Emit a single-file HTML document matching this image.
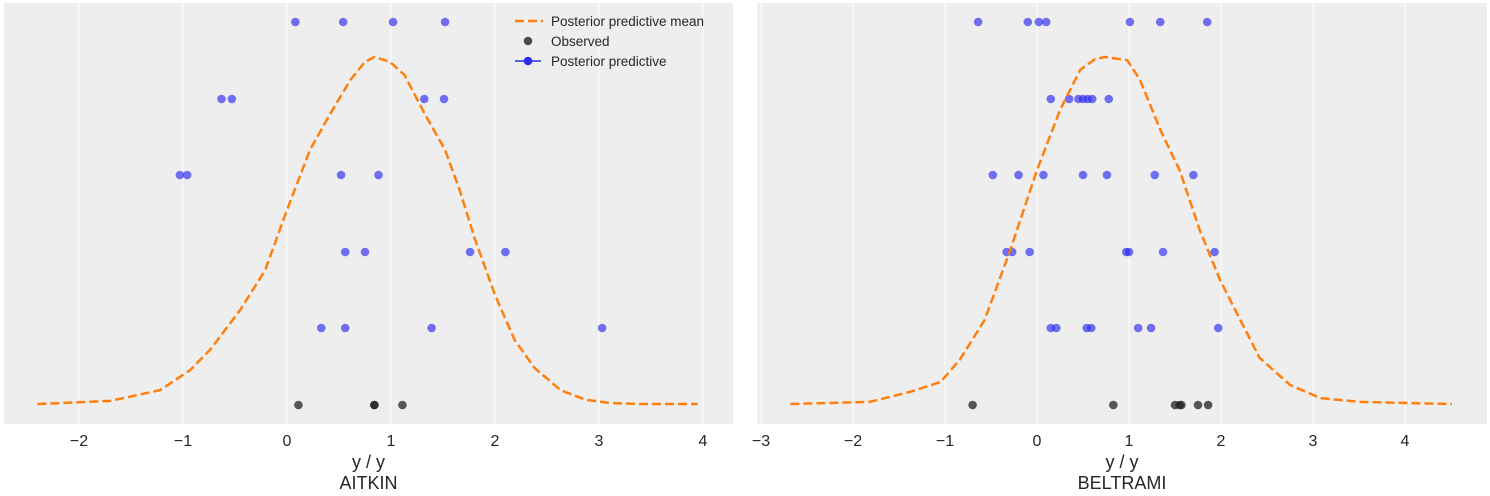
<!DOCTYPE html>
<html><head><meta charset="utf-8"><style>
body{margin:0;background:#fff;font-family:"Liberation Sans","DejaVu Sans",sans-serif}
svg{display:block}
</style></head><body>
<svg id="c" width="1490" height="496" xmlns="http://www.w3.org/2000/svg"></svg>
<script>
const ticks1=[-2,-1,0,1,2,3,4];
const ticks2=[-3,-2,-1,0,1,2,3,4];
const meanX1=[-2.4,-1.7,-1.22,-0.93,-0.74,-0.45,-0.21,0,0.22,0.41,0.61,0.75,0.84,0.99,1.13,1.33,1.52,1.66,1.81,2.0,2.19,2.38,2.63,2.87,3.11,3.39,3.95];
const meanY1=[0,.009,.04,.098,.156,.271,.386,.559,.732,.833,.934,.986,1,.986,.948,.833,.732,.617,.473,.314,.184,.104,.04,.012,.003,0,0];
const meanX2=[-2.68,-1.82,-1.38,-1.05,-0.84,-0.57,-0.29,0,0.25,0.47,0.63,0.74,0.98,1.12,1.34,1.55,1.77,1.99,2.21,2.42,2.75,3.08,3.51,4.51];
const meanY2=[0,.006,.035,.063,.127,.242,.444,.674,.847,.963,.994,1,.991,.934,.79,.674,.501,.357,.242,.133,.055,.017,.006,0];
const pp1=[[0.08,0.54,1.02,1.52],[-0.63,-0.53,1.32,1.51],[-1.03,-0.96,0.52,0.88],[0.56,0.75,1.76,2.10],[0.33,0.56,1.39,3.03]];
const obs1=[0.11,0.84,0.84,1.11];
const pp2=[[-0.64,-0.10,0.02,0.10,1.01,1.34,1.85],[0.15,0.35,0.45,0.5,0.55,0.6,0.78],[-0.48,-0.2,0.07,0.5,0.76,1.28,1.70],[-0.33,-0.27,-0.08,0.97,1.0,1.37,1.93],[0.15,0.21,0.54,0.59,1.10,1.24,1.97]];
const obs2=[-0.70,0.83,1.50,1.55,1.57,1.75,1.86];
const titles=["AITKIN","BELTRAMI"];

const NS="http://www.w3.org/2000/svg";
const svg=document.getElementById('c');
function mk(t,a,p){const e=document.createElementNS(NS,t);for(const k in a)e.setAttribute(k,a[k]);(p||svg).appendChild(e);return e;}
const rowY=[22,99,175,252,328],obsY=405,base=404,peak=57;
const panels=[
 {x0:4,x1:733,zero:287,unit:104,ticks:ticks1,mx:meanX1,my:meanY1,pp:pp1,obs:obs1,t:titles[0]},
 {x0:757,x1:1487,zero:1037,unit:92,ticks:ticks2,mx:meanX2,my:meanY2,pp:pp2,obs:obs2,t:titles[1]}];
panels.forEach((P,i)=>{
 const g=mk('g',{});
 
 
 const sx=v=>P.zero+v*P.unit;
 const sy=h=>base-h*(base-peak);
 const bg=mk('rect',{x:P.x0,y:3,width:P.x1-P.x0,height:421,fill:'#eeeeee'},g);
 
 
 P.ticks.forEach(t=>{
  const l=mk('line',{x1:sx(t),x2:sx(t),y1:3,y2:424,stroke:'#fff','stroke-width':1},g);
  
  
  const tx=mk('text',{x:sx(t),y:446,'text-anchor':'middle','font-size':16,fill:'#262626'},g);
  tx.textContent=(t<0?'\u2212'+(-t):t);
  
  
 });
 P.pp.forEach((row,r)=>row.forEach(v=>{
  const c=mk('circle',{cx:sx(v),cy:rowY[r],r:4.3,fill:'#2a2af0','fill-opacity':0.65},g);
  
  
 }));
 P.obs.forEach(v=>{
  const c=mk('circle',{cx:sx(v),cy:obsY,r:4.3,fill:'#222','fill-opacity':0.75},g);
  
  
 });
 const d=P.mx.map((v,k)=>(k?'L':'M')+sx(v).toFixed(1)+','+sy(P.my[k]).toFixed(1)).join('');
 const p=mk('path',{d:d,fill:'none',stroke:'#ff7f0e','stroke-width':2.5,'stroke-dasharray':'9,4','stroke-linejoin':'round'},g);
 
 
 const cx=(P.x0+P.x1)/2;
 const xl=mk('text',{x:cx,y:468,'text-anchor':'middle','font-size':18,fill:'#262626'},g);
 xl.textContent='y / y';
 
 
 const tl=mk('text',{x:cx,y:489,'text-anchor':'middle','font-size':18,fill:'#262626'},g);
 tl.textContent=P.t;
 
 
});
const lg=mk('g',{});


const items=[['Posterior predictive mean','mean'],['Observed','obs'],['Posterior predictive','pp']];
items.forEach((it,k)=>{
 const y=21+k*20;
 const e=mk('g',{},lg);
 
 
 if(it[1]=='mean')mk('line',{x1:515,x2:543,y1:y,y2:y,stroke:'#ff7f0e','stroke-width':2.5,'stroke-dasharray':'9,4'},e);
 if(it[1]=='obs')mk('circle',{cx:528,cy:y,r:4.3,fill:'#222','fill-opacity':0.8},e);
 if(it[1]=='pp'){mk('line',{x1:515,x2:541,y1:y,y2:y,stroke:'#2a2af0','stroke-width':1.5},e);mk('circle',{cx:528,cy:y,r:4.3,fill:'#2a2af0'},e);}
 const t=mk('text',{x:551,y:y+5,'font-size':13.5,fill:'#262626'},e);
 t.textContent=it[0];
});
</script>
</body></html>
